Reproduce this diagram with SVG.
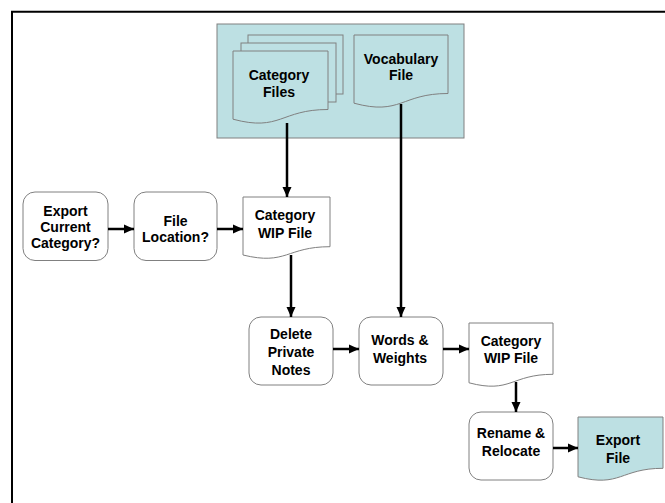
<svg xmlns="http://www.w3.org/2000/svg" width="665" height="503" viewBox="0 0 665 503">
  <defs>
    <style>
      .box { fill: #ffffff; stroke: #808080; stroke-width: 1; }
      .doc { fill: #ffffff; stroke: #808080; stroke-width: 1; }
      .teal { fill: #bde0e3; stroke: #808080; stroke-width: 1; }
      .lbl { font-family: "Liberation Sans", Arial, sans-serif; font-size: 14px; font-weight: bold; fill: #000000; text-anchor: middle; }
      .conn { fill: none; stroke: #000000; stroke-width: 2.5; marker-end: url(#arrow); }
    </style>
    <marker id="arrow" markerUnits="userSpaceOnUse" markerWidth="12" markerHeight="10" refX="10" refY="5" orient="auto">
      <path d="M0,0.5 L10,5 L0,9.5 Z" fill="#000000"/>
    </marker>
  </defs>

  <rect width="665" height="503" fill="#ffffff"/>
  <!-- page frame -->
  <path d="M12,503 V11.8 H665" fill="none" stroke="#000000" stroke-width="2"/>

  <!-- source files panel -->
  <g id="sources">
    <rect class="teal" x="217" y="24" width="247" height="114"/>
  </g>

  <g id="category-files">
    <rect class="teal" x="248" y="35" width="95" height="59"/>
    <rect class="teal" x="241" y="43" width="95" height="59"/>
    <path class="teal" d="M233,51 H328 V109.5 C280.5,109.5 280.5,131.9 233,119.2 Z"/>
    <text class="lbl" x="279" y="80">Category</text>
    <text class="lbl" x="279" y="96.5">Files</text>
  </g>

  <g id="vocabulary-file">
    <path class="teal" d="M354,35 H448 V93.5 C401,93.5 401,115.9 354,103.2 Z"/>
    <text class="lbl" x="401" y="63.5">Vocabulary</text>
    <text class="lbl" x="401" y="80">File</text>
  </g>

  <g id="export-current-category">
    <rect class="box" x="23" y="192" width="85" height="68.5" rx="12"/>
    <text class="lbl" x="65.5" y="216">Export</text>
    <text class="lbl" x="65.5" y="232">Current</text>
    <text class="lbl" x="65.5" y="248">Category?</text>
  </g>

  <g id="file-location">
    <rect class="box" x="134" y="192" width="83" height="68.5" rx="12"/>
    <text class="lbl" x="175.5" y="226">File</text>
    <text class="lbl" x="175.5" y="242">Location?</text>
  </g>

  <g id="category-wip-file-1">
    <path class="doc" d="M243,197 H330 V246.7 C286.5,246.7 286.5,265.7 243,255 Z"/>
    <text class="lbl" x="285" y="220">Category</text>
    <text class="lbl" x="285" y="237.5">WIP File</text>
  </g>

  <g id="delete-private-notes">
    <rect class="box" x="249" y="317" width="84" height="68" rx="12"/>
    <text class="lbl" x="291" y="339">Delete</text>
    <text class="lbl" x="291" y="357">Private</text>
    <text class="lbl" x="291" y="375">Notes</text>
  </g>

  <g id="words-weights">
    <rect class="box" x="359" y="317" width="84" height="68" rx="12"/>
    <text class="lbl" x="400" y="345">Words &amp;</text>
    <text class="lbl" x="400" y="363">Weights</text>
  </g>

  <g id="category-wip-file-2">
    <path class="doc" d="M469,323 H553 V374.3 C511,374.3 511,393.9 469,382.8 Z"/>
    <text class="lbl" x="511" y="346">Category</text>
    <text class="lbl" x="511" y="363">WIP File</text>
  </g>

  <g id="rename-relocate">
    <rect class="box" x="469" y="412" width="84" height="68" rx="12"/>
    <text class="lbl" x="511" y="438">Rename &amp;</text>
    <text class="lbl" x="511" y="456">Relocate</text>
  </g>

  <g id="export-file">
    <path class="teal" d="M578,417 H663 V468.3 C620.5,468.3 620.5,487.9 578,476.8 Z"/>
    <text class="lbl" x="618" y="445">Export</text>
    <text class="lbl" x="618" y="462.5">File</text>
  </g>

  <g id="connectors">
    <path class="conn" d="M287,123 V197"/>
    <path class="conn" d="M401,104 V317"/>
    <path class="conn" d="M108,229 H134"/>
    <path class="conn" d="M217,229 H243"/>
    <path class="conn" d="M291,255 V317"/>
    <path class="conn" d="M333,349 H359"/>
    <path class="conn" d="M443,349 H469"/>
    <path class="conn" d="M516,382 V412"/>
    <path class="conn" d="M553,448 H578"/>
  </g>
</svg>
